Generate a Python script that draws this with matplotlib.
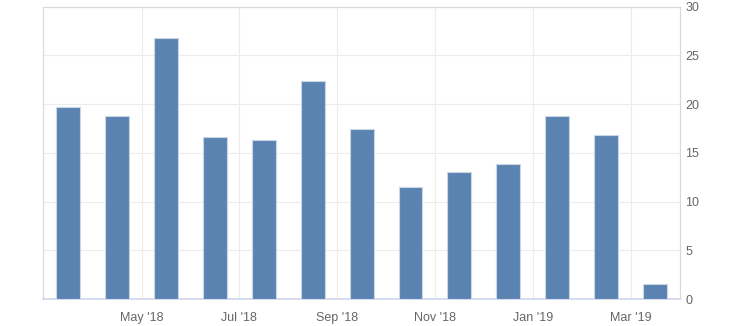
import numpy as np
import matplotlib.pyplot as plt

# monthly values, Mar '18 .. Mar '19
months = ["Mar '18", "Apr '18", "May '18", "Jun '18", "Jul '18", "Aug '18", "Sep '18",
          "Oct '18", "Nov '18", "Dec '18", "Jan '19", "Feb '19", "Mar '19"]
values = [19.7, 18.8, 26.8, 16.6, 16.3, 22.4, 17.5, 11.5, 13.0, 13.9, 18.8, 16.8, 1.5]
tick_labels = ["May '18", "Jul '18", "Sep '18", "Nov '18", "Jan '19", "Mar '19"]
y_ticks = [0, 5, 10, 15, 20, 25, 30]

plt.rcParams['font.family'] = ['Liberation Sans', 'DejaVu Sans']

fig = plt.figure(figsize=(7.3, 3.26), dpi=100)
ax = fig.add_axes([0.0585, 0.0828, 0.873, 0.8966])

x = np.arange(len(values))
ax.bar(x, values, width=0.49, color='#5b83b1', edgecolor='#c9d6e6', linewidth=0.8, zorder=3)

ax.set_xlim(-0.52, 12.51)
ax.set_ylim(0, 30)

ax.set_xticks(np.arange(1.5, 12, 2))
ax.set_xticklabels(tick_labels)
ax.set_yticks(y_ticks)

ax.yaxis.tick_right()
ax.tick_params(axis='both', length=0, labelsize=9, labelcolor='#666666')
ax.tick_params(axis='x', pad=9)
ax.tick_params(axis='y', pad=4)

ax.grid(True, color='#ececec', linewidth=0.8, zorder=0)

for side in ['top', 'left', 'right']:
    ax.spines[side].set_color('#d8d8d8')
ax.spines['bottom'].set_color('#ccd6eb')
ax.spines['bottom'].set_linewidth(1.2)

fig.savefig('out.png', dpi=100)
